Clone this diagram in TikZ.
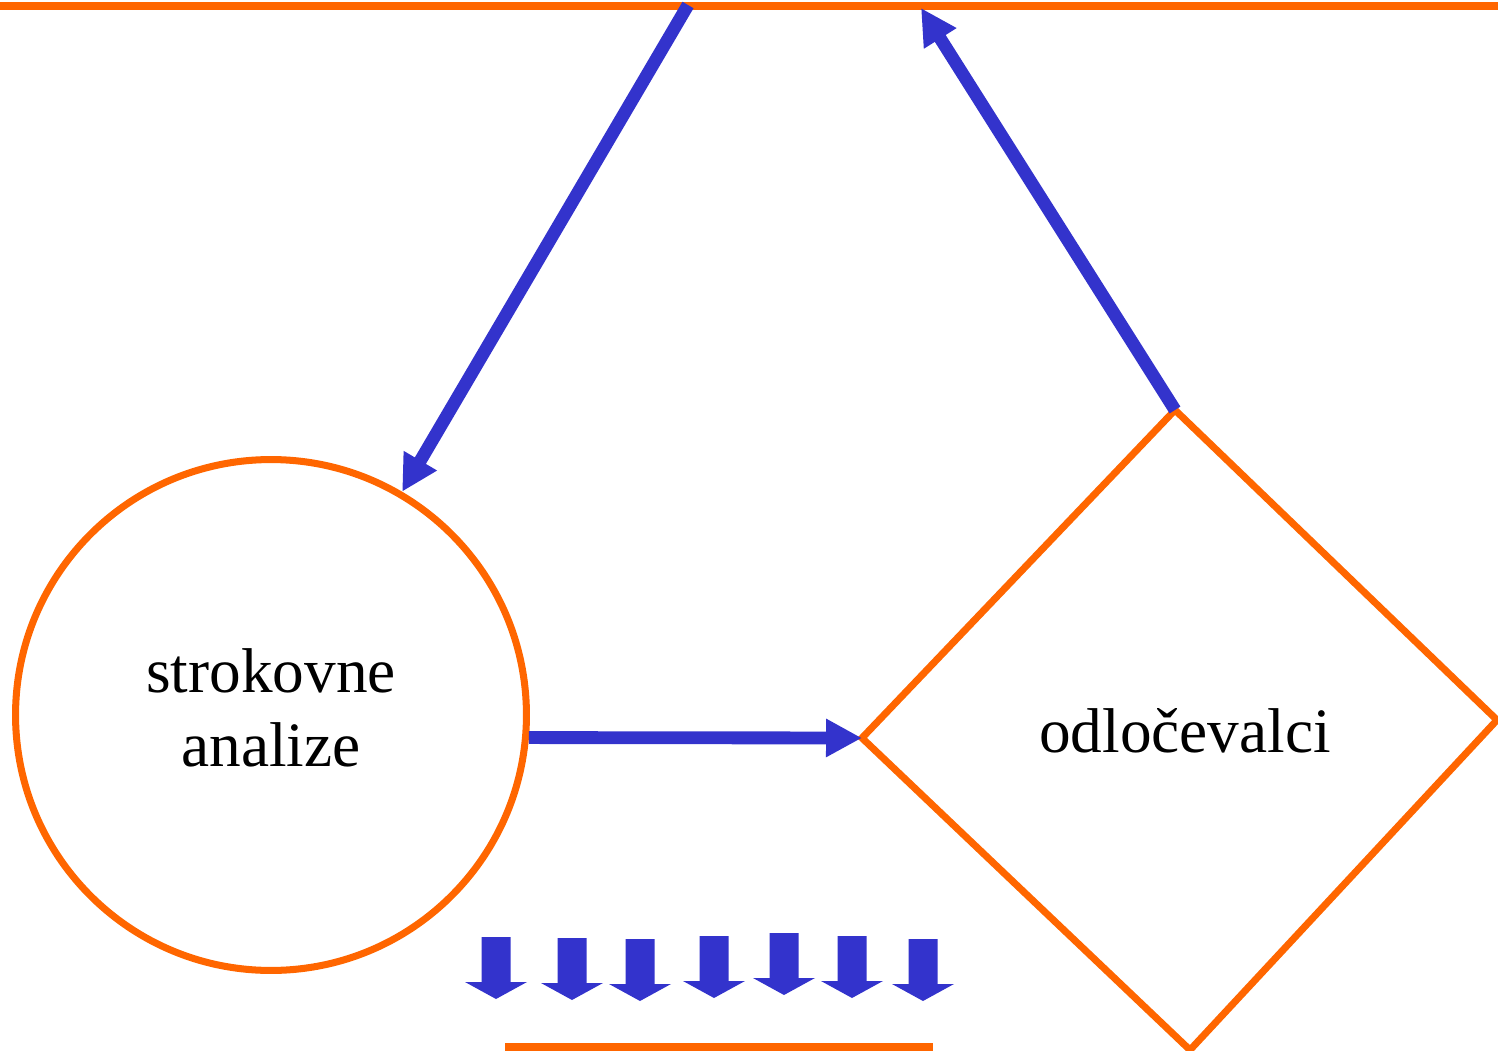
\documentclass[tikz,border=0pt]{standalone}
\usepackage{fontspec}
\setmainfont{Liberation Serif}
\usetikzlibrary{arrows.meta}
\definecolor{orng}{HTML}{FF6600}
\definecolor{blu}{HTML}{3333CC}
\tikzset{
  outline/.style={draw=orng, line width=4pt},
  flow/.style={draw=blu, line width=7.3pt, -{Triangle[length=0.72cm,width=0.72cm]}},
  label/.style={font=\fontsize{36}{42.5}\selectfont, text=black, align=center, inner sep=0pt},
  blockdown/.pic={\fill[blu] (-14.5,0) -- (14.5,0) -- (14.5,45) -- (31,45) -- (0,62) -- (-31,45) -- (-14.5,45) -- cycle;}
}
\begin{document}
\begin{tikzpicture}[x=0.02cm,y=-0.02cm]
\useasboundingbox (0,0) rectangle (1498,1051);
% top line
\coordinate (tl) at (0,6);
\coordinate (tr) at (1498,6);
\draw[outline] (tl) -- (tr);
% circle
\node[circle, outline, minimum size=10.22cm, inner sep=0pt] (circ) at (271,715) {};
\node[label] (circtext) at (271,708) {strokovne\\analize};
% diamond
\coordinate (dT) at (1175,410);
\coordinate (dL) at (862,738);
\coordinate (dB) at (1190,1050);
\coordinate (dR) at (1497,720);
\draw[outline, line join=miter] (dT) -- (dR) -- (dB) -- (dL) -- cycle;
\node[label, anchor=base] (dtext) at (1185,752) {odločevalci};
% arrows
\coordinate (aStart) at (688,5);
\draw[flow] (aStart) -- (circ);
\coordinate (bEnd) at (921,8);
\draw[flow] (dT) -- (bEnd);
\draw[flow] (circ.-5.6) -- (dL);
% block arrows
\pic at (496,937) {blockdown};
\pic at (572,938) {blockdown};
\pic at (640,939) {blockdown};
\pic at (714,936) {blockdown};
\pic at (784,933) {blockdown};
\pic at (852,936) {blockdown};
\pic at (923,939) {blockdown};
% bottom line
\coordinate (bl) at (505,1047);
\coordinate (br) at (933,1047);
\draw[outline] (bl) -- (br);
\end{tikzpicture}
\end{document}
